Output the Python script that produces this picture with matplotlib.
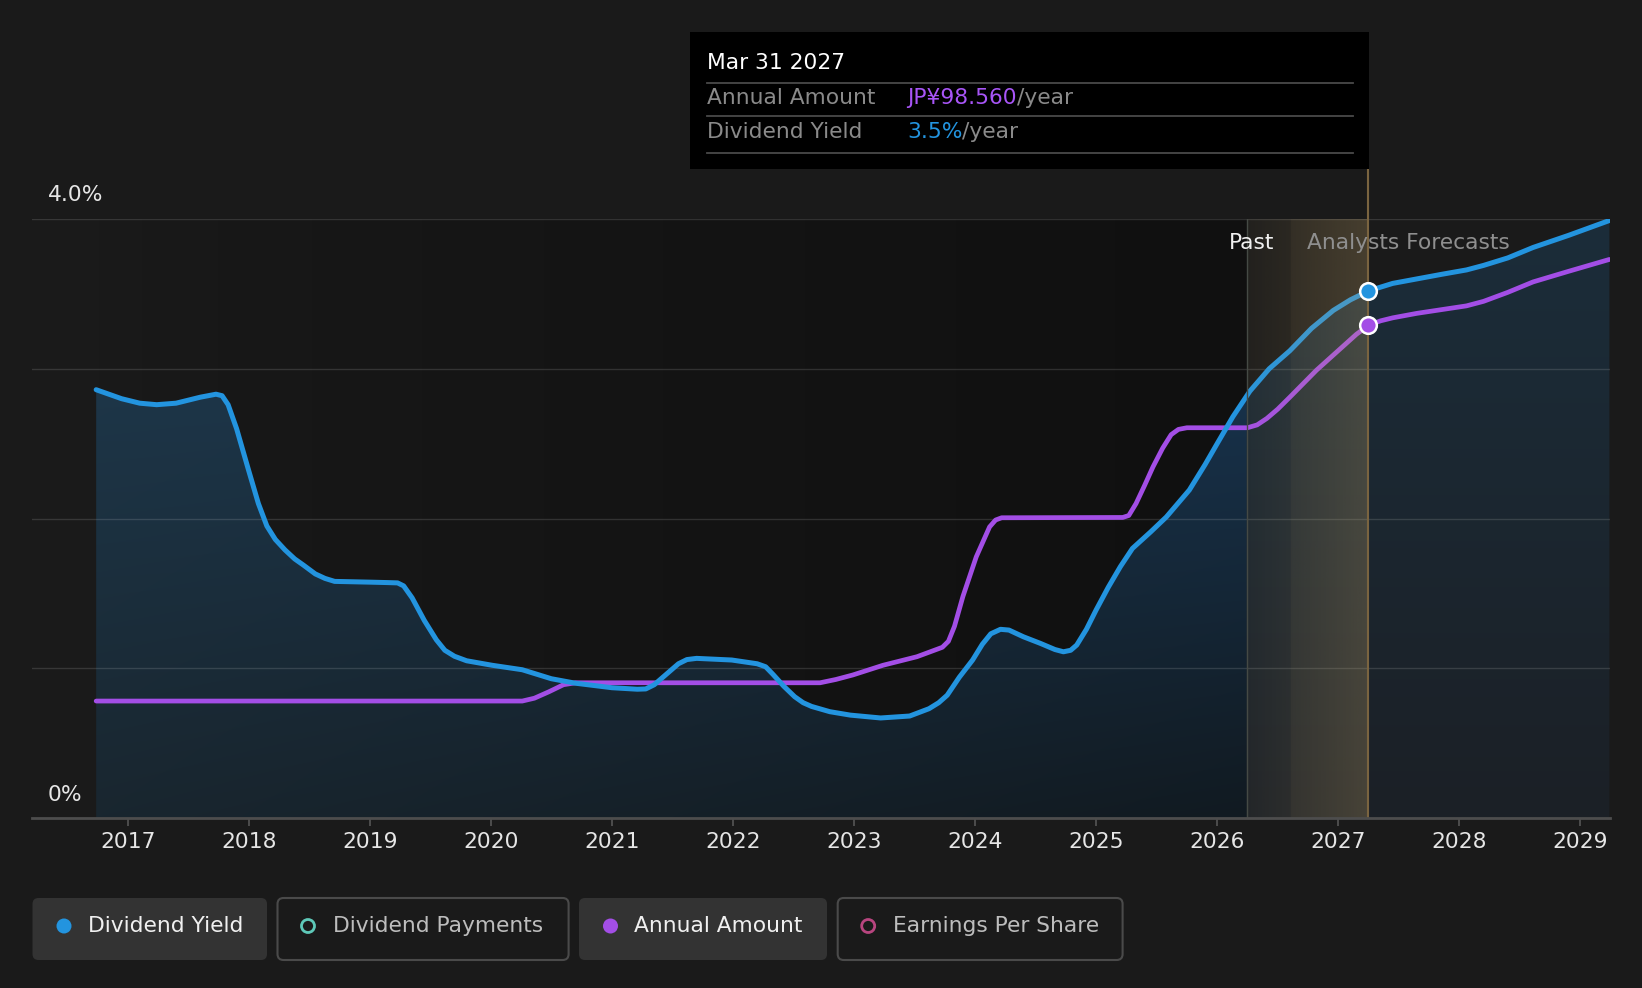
import numpy as np
import matplotlib
matplotlib.use('Agg')
import matplotlib.pyplot as plt
from matplotlib.patches import FancyBboxPatch, Rectangle, Circle
from matplotlib.colors import to_rgb

# dividend yield (%), decimal years
yld_x = [2016.74, 2016.95, 2017.10, 2017.24, 2017.40, 2017.60, 2017.73, 2017.78, 2017.83,
         2017.90, 2018.00, 2018.08, 2018.15, 2018.22, 2018.30, 2018.38, 2018.45, 2018.55,
         2018.63, 2018.71, 2019.00, 2019.15, 2019.23, 2019.28, 2019.35, 2019.45, 2019.55,
         2019.62, 2019.70, 2019.80, 2020.01, 2020.26, 2020.50, 2020.70, 2021.00, 2021.21,
         2021.28, 2021.35, 2021.45, 2021.55, 2021.62, 2021.70, 2021.99, 2022.20, 2022.27,
         2022.33, 2022.42, 2022.51, 2022.58, 2022.65, 2022.80, 2022.97, 2023.22, 2023.46,
         2023.62, 2023.70, 2023.77, 2023.87, 2023.98, 2024.06, 2024.13, 2024.21, 2024.28,
         2024.40, 2024.54, 2024.66, 2024.73, 2024.79, 2024.84, 2024.92, 2025.00, 2025.10,
         2025.20, 2025.30, 2025.45, 2025.58, 2025.77, 2025.90, 2026.00, 2026.13, 2026.27,
         2026.43, 2026.60, 2026.78, 2026.96, 2027.10, 2027.25, 2027.45, 2027.65, 2027.85,
         2028.06, 2028.20, 2028.40, 2028.61, 2028.90, 2029.24]
yld_v = [2.86, 2.80, 2.77, 2.76, 2.77, 2.81, 2.83, 2.82, 2.76,
         2.60, 2.32, 2.10, 1.95, 1.86, 1.79, 1.73, 1.69, 1.63,
         1.60, 1.58, 1.575, 1.572, 1.57, 1.55, 1.47, 1.32, 1.19,
         1.12, 1.08, 1.05, 1.02, 0.99, 0.93, 0.90, 0.87, 0.86,
         0.862, 0.89, 0.96, 1.03, 1.058, 1.066, 1.055, 1.03, 1.01,
         0.96, 0.88, 0.81, 0.77, 0.745, 0.71, 0.687, 0.668, 0.681,
         0.73, 0.77, 0.82, 0.94, 1.055, 1.16, 1.23, 1.26, 1.255,
         1.21, 1.166, 1.125, 1.11, 1.12, 1.155, 1.26, 1.389, 1.54,
         1.678, 1.80, 1.91, 2.01, 2.19, 2.36, 2.50, 2.68, 2.85,
         3.00, 3.12, 3.27, 3.39, 3.46, 3.52, 3.57, 3.60, 3.63,
         3.66, 3.69, 3.74, 3.81, 3.89, 3.99]

# annual amount, drawn on the same scale
amt_x = [2016.74, 2020.26, 2020.36, 2020.48, 2020.60, 2020.70, 2022.72, 2022.85, 2022.99,
         2023.24, 2023.52, 2023.73, 2023.78, 2023.83, 2023.90, 2024.01, 2024.12, 2024.17,
         2024.22, 2025.22, 2025.27, 2025.33, 2025.40, 2025.47, 2025.55, 2025.62, 2025.68,
         2025.75, 2026.25, 2026.33, 2026.41, 2026.50, 2026.60, 2026.82, 2027.04, 2027.15,
         2027.25, 2027.35, 2027.45, 2027.65, 2028.06, 2028.20, 2028.40, 2028.61, 2028.90,
         2029.24]
amt_v = [0.781, 0.781, 0.80, 0.843, 0.89, 0.903, 0.903, 0.925, 0.955,
         1.02, 1.077, 1.14, 1.18, 1.28, 1.48, 1.744, 1.944, 1.99,
         2.005, 2.007, 2.02, 2.10, 2.22, 2.345, 2.47, 2.56, 2.595,
         2.606, 2.606, 2.625, 2.668, 2.73, 2.81, 2.99, 3.15, 3.23,
         3.29, 3.32, 3.34, 3.37, 3.42, 3.45, 3.51, 3.58, 3.65,
         3.73]

years = list(range(2017, 2030))
past_end = 2026.25
hover_x = 2027.25
tip_date = 'Mar 31 2027'
tip_amount = 'JP¥98.560'
tip_yield = '3.5%'
legend_items = ['Dividend Yield', 'Dividend Payments', 'Annual Amount', 'Earnings Per Share']

BG = '#1a1a1a'
BLUE = '#2394df'
PURPLE = '#a34ee6'
FS = 15.7
plt.rcParams['font.family'] = ['DejaVu Sans']

W, H = 1642, 988
fig = plt.figure(figsize=(W / 100, H / 100), dpi=100, facecolor=BG)
ax = fig.add_axes([32 / W, 1 - 818 / H, (1610 - 32) / W, (818 - 219) / H])
ax.set_facecolor('none')

# fill under the yield line (gradient, clipped to the area)
nx, ny = 800, 300
xs = np.linspace(yld_x[0], yld_x[-1], nx)
t = np.linspace(0, 1, ny)[:, None, None]
f = np.clip((xs - yld_x[0]) / (past_end - yld_x[0]), 0, 1)[None, :, None]
lc0, lc1 = np.array([25, 38, 47]), np.array([31, 60, 82])
rc0, rc1 = np.array([17, 26, 33]), np.array([26, 59, 91])
fc0, fc1 = np.array([28, 32, 38]), np.array([27, 45, 58])
c0 = lc0 + f * (rc0 - lc0)
c1 = lc1 + f * (rc1 - lc1)
fut = (xs >= past_end)[None, :, None]
c0 = np.where(fut, fc0, c0)
c1 = np.where(fut, fc1, c1)
img = (c0 + t * (c1 - c0)) / 255.0
im = ax.imshow(img, extent=[xs[0], xs[-1], 0, 4], origin='lower', aspect='auto',
               zorder=1, interpolation='bilinear')
poly = ax.fill_between(yld_x, yld_v, 0, facecolor='none', edgecolor='none')
im.set_clip_path(poly.get_paths()[0], transform=ax.transData)

# darker backdrop for the past part above the curve
dk = np.zeros((2, 400, 4))
dk[:, :, 3] = 0.38 * np.linspace(0, 1, 400) ** 0.7
ax.imshow(dk, extent=[yld_x[0], past_end, 0, 4], origin='lower', aspect='auto', zorder=0.5)

for v in [1, 2, 3, 4]:
    ax.axhline(v, color='white', alpha=0.13, lw=1, zorder=2)

ax.plot(amt_x, amt_v, color=PURPLE, lw=3.4, zorder=3, solid_capstyle='round',
        solid_joinstyle='round')
ax.plot(yld_x, yld_v, color=BLUE, lw=3.6, zorder=3.2, solid_capstyle='round',
        solid_joinstyle='round')

# forecast band
bx = np.linspace(past_end, hover_x, 300)
ba = np.where(bx < 2026.61, 0.05 + 0.05 * (bx - past_end) / 0.36,
              0.15 + 0.11 * (bx - 2026.61) / (hover_x - 2026.61))
band = np.zeros((2, 300, 4))
band[:, :, :3] = to_rgb('#c8a86b')
band[:, :, 3] = ba
ax.imshow(band, extent=[past_end, hover_x, 0, 4], origin='lower', aspect='auto', zorder=4)
ax.axvline(past_end, color='#454a45', lw=1, zorder=4.5)
ax.axvline(hover_x, ymin=0, ymax=(818 - 168.7) / (818 - 219), color='#7a6440', lw=1.5,
           clip_on=False, zorder=4.5)

iy = yld_x.index(hover_x)
ia = amt_x.index(hover_x)
ax.plot(hover_x, yld_v[iy], 'o', ms=12, mfc=BLUE, mec='white', mew=1.8, zorder=6)
ax.plot(hover_x, amt_v[ia], 'o', ms=12, mfc=PURPLE, mec='white', mew=1.8, zorder=6)

ax.set_xlim(2016.21, 2029.245)
ax.set_ylim(0, 4)
ax.set_xticks(years)
ax.set_xticklabels([str(y) for y in years])
ax.set_yticks([])
ax.tick_params(axis='x', length=6, width=1.2, color='#555555', labelcolor='#e6e6e6',
               labelsize=FS, pad=4)
for s in ['top', 'left', 'right']:
    ax.spines[s].set_visible(False)
ax.spines['bottom'].set_color('#4d4d4d')
ax.spines['bottom'].set_linewidth(2)
ax.spines['bottom'].set_zorder(5)

# overlay in pixel coordinates for labels, tooltip and legend
ov = fig.add_axes([0, 0, 1, 1], zorder=10)
ov.set_xlim(0, W)
ov.set_ylim(H, 0)
ov.axis('off')
ov.patch.set_alpha(0)

ov.text(48, 195, '4.0%', color='#e6e6e6', fontsize=FS, va='center', ha='left')
ov.text(48, 795, '0%', color='#e6e6e6', fontsize=FS, va='center', ha='left')
ov.text(1274, 243, 'Past', color='#f0f0f0', fontsize=FS, va='center', ha='right')
ov.text(1307, 243, 'Analysts Forecasts', color='#8f8f8f', fontsize=FS, va='center', ha='left')

# tooltip
ov.add_patch(Rectangle((690, 32.5), 678.7, 136.2, facecolor='black', edgecolor='none'))
ov.text(707, 63, tip_date, color='white', fontsize=FS, va='center', ha='left')
for yy in [82.7, 116.2, 152.9]:
    ov.plot([707, 1353], [yy, yy], color='#4a4a4a', lw=1.3)
ov.text(707, 98.4, 'Annual Amount', color='#8a8a8a', fontsize=FS, va='center', ha='left')
ov.text(707, 132, 'Dividend Yield', color='#8a8a8a', fontsize=FS, va='center', ha='left')
fig.canvas.draw()
r = fig.canvas.get_renderer()
t1 = ov.text(907, 98.4, tip_amount, color='#a855f7', fontsize=FS, va='center', ha='left')
t2 = ov.text(907, 132, tip_yield, color=BLUE, fontsize=FS, va='center', ha='left')
for tt, yy in [(t1, 98.4), (t2, 132)]:
    x1 = tt.get_window_extent(renderer=r).x1
    ov.text(x1, yy, '/year', color='#8a8a8a', fontsize=FS, va='center', ha='left')

# legend buttons
boxes = [(32.5, 267), (277.5, 568.6), (579, 827), (837.7, 1122.6)]
dots = [(BLUE, True), ('#5ec8b8', False), (PURPLE, True), ('#b8457f', False)]
for label, (x0, x1), (col, active) in zip(legend_items, boxes, dots):
    if active:
        ov.add_patch(FancyBboxPatch((x0, 898), x1 - x0, 62,
                                    boxstyle='round,pad=0,rounding_size=6',
                                    facecolor='#333333', edgecolor='none'))
        ov.add_patch(Circle((x0 + 31.5, 926), 7.5, facecolor=col, edgecolor='none'))
        tc = '#f0f0f0'
    else:
        ov.add_patch(FancyBboxPatch((x0, 898), x1 - x0, 62,
                                    boxstyle='round,pad=0,rounding_size=6',
                                    facecolor=BG, edgecolor='#4a4a4a', lw=1.5))
        ov.add_patch(Circle((x0 + 30.5, 926), 6.5, facecolor='none', edgecolor=col, lw=2))
        tc = '#bdbdbd'
    ov.text(x0 + 55.5, 926, label, color=tc, fontsize=FS, va='center', ha='left')

fig.savefig('out.png', dpi=100, facecolor=BG)
